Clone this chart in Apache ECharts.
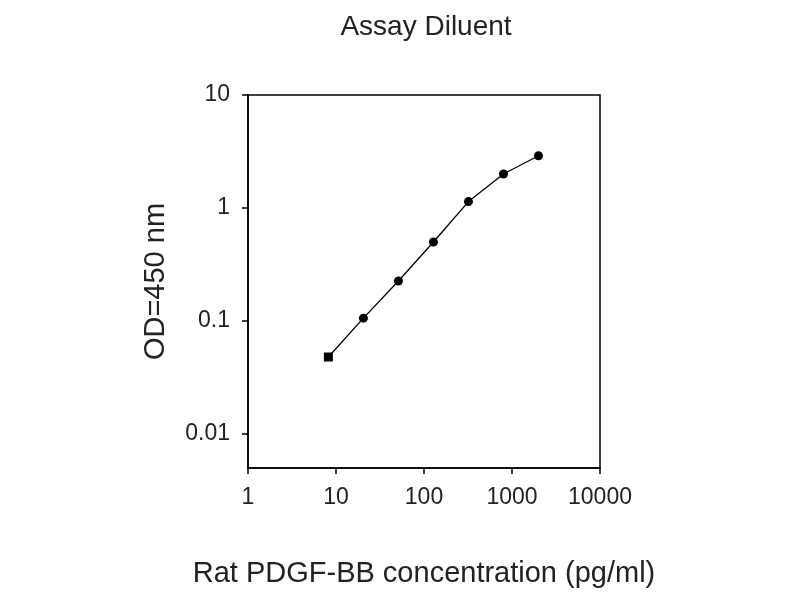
<!DOCTYPE html>
<html><head><meta charset="utf-8">
<script src="https://cdn.jsdelivr.net/npm/echarts@6/dist/echarts.min.js"></script>
<style>html,body{margin:0;padding:0;background:#fff}#c{width:800px;height:600px}</style>
</head><body><div id="c"></div>
<script>
const concentrations = [8.192, 20.48, 51.2, 128, 320, 800, 2000];
const odValues = [0.048, 0.106, 0.226, 0.50, 1.14, 2.0, 2.9];
const xTicks = [1, 10, 100, 1000, 10000];
const yTicks = [0.01, 0.1, 1, 10];

const font = '"Liberation Sans", Arial, sans-serif';
const fmt = v => String(+(+v).toPrecision(3));
const chart = echarts.init(document.getElementById('c'));
chart.setOption({
  backgroundColor: '#fff',
  animation: false,
  title: {
    text: 'Assay Diluent', left: 421, top: 8, textAlign: 'center',
    textStyle: {fontFamily: font, fontWeight: 'normal', fontSize: 28, color: '#222'}
  },
  grid: {left: 248, top: 95, width: 352, height: 373, show: true, borderColor: '#000', borderWidth: 1.5, backgroundColor: 'transparent'},
  xAxis: {
    type: 'log', logBase: 10, min: 1, max: 10000,
    name: 'Rat PDGF-BB concentration (pg/ml)', nameLocation: 'middle', nameGap: 91,
    nameTextStyle: {fontFamily: font, fontSize: 29, color: '#222'},
    axisLine: {show: true, lineStyle: {color: '#000', width: 1.5}},
    axisTick: {show: true, length: 6, lineStyle: {color: '#000', width: 1.5}, customValues: xTicks},
    axisLabel: {fontFamily: font, fontSize: 23, color: '#222', margin: 18, customValues: xTicks, formatter: fmt},
    splitLine: {show: false}, minorTick: {show: false}
  },
  yAxis: {
    type: 'log', logBase: 10, min: 0.005, max: 10,
    name: 'OD=450 nm', nameLocation: 'middle', nameGap: 78, nameRotate: 90,
    nameTextStyle: {fontFamily: font, fontSize: 29, color: '#222'},
    axisLine: {show: true, lineStyle: {color: '#000', width: 1.5}},
    axisTick: {show: true, length: 6, lineStyle: {color: '#000', width: 1.5}, customValues: yTicks},
    axisLabel: {fontFamily: font, fontSize: 23, color: '#222', margin: 18, customValues: yTicks, formatter: fmt},
    splitLine: {show: false}
  },
  series: [{
    type: 'line',
    data: concentrations.map((c, i) => ({value: [c, odValues[i]], symbol: i === 0 ? 'rect' : 'circle'})),
    symbolSize: 9,
    lineStyle: {color: '#000', width: 1.3},
    itemStyle: {color: '#000'}
  }]
});
</script></body></html>
